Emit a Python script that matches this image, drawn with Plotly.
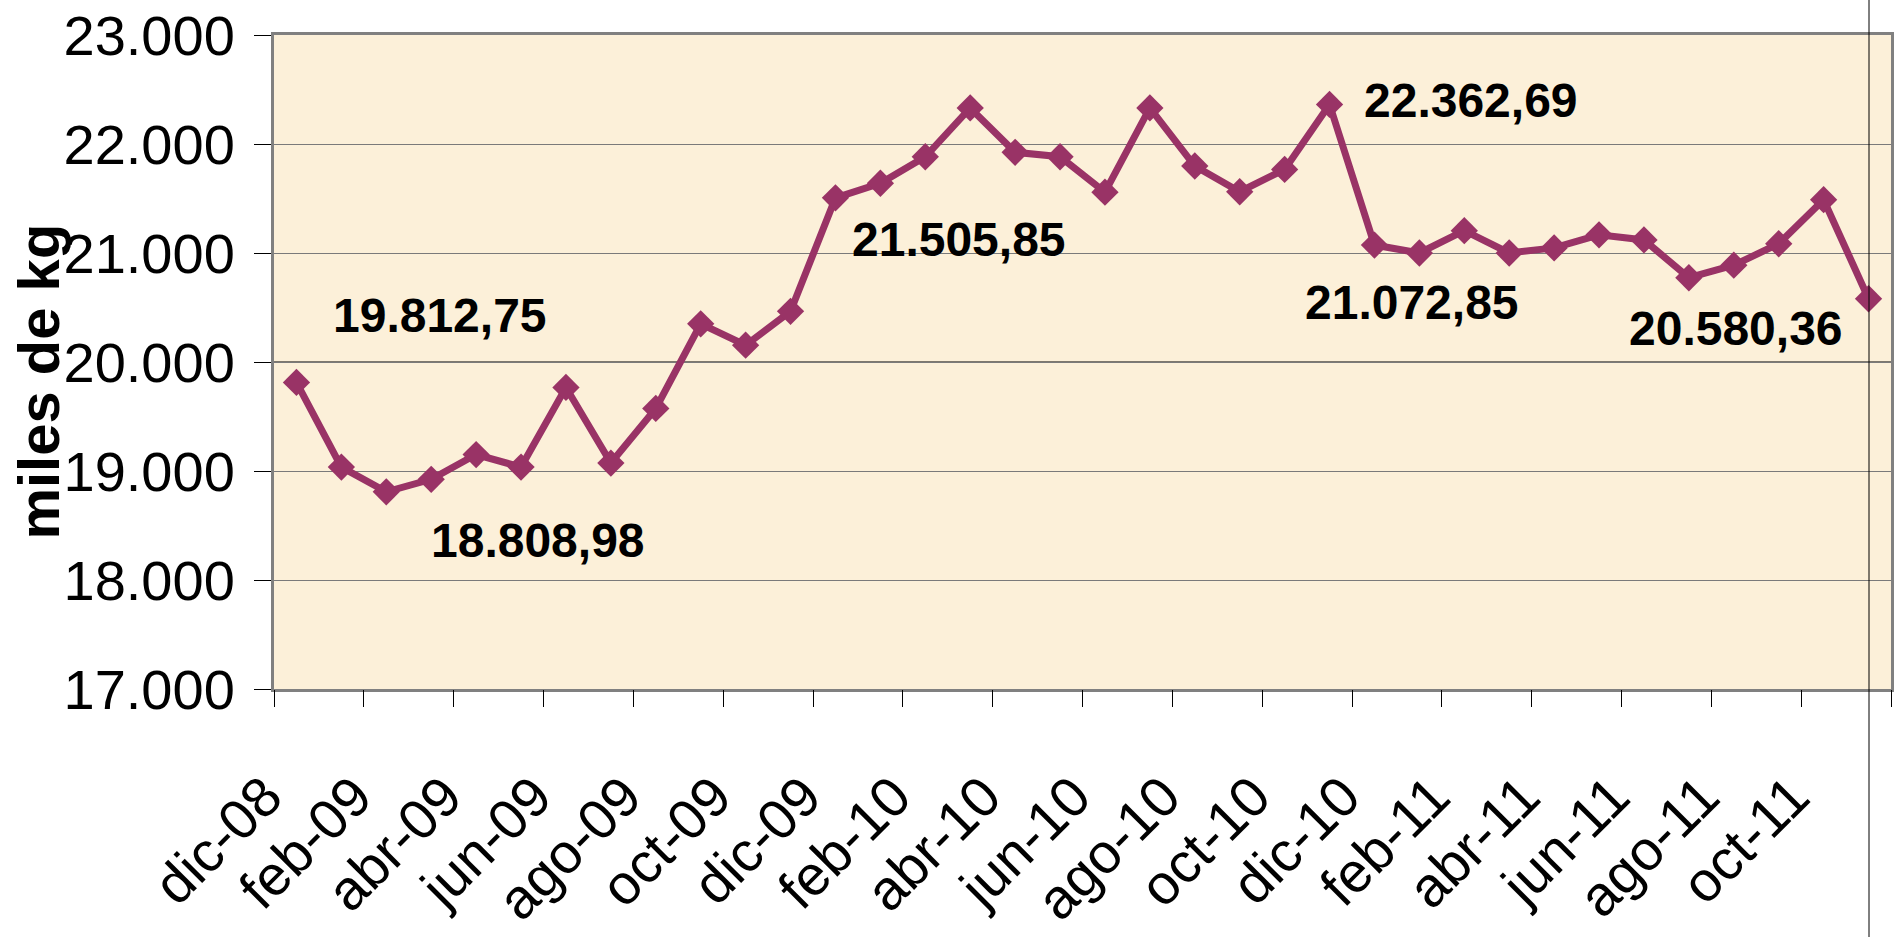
import plotly.graph_objects as go

# ---- data ----
months = ["dic-08",
          "ene-09", "feb-09", "mar-09", "abr-09", "may-09", "jun-09",
          "jul-09", "ago-09", "sep-09", "oct-09", "nov-09", "dic-09",
          "ene-10", "feb-10", "mar-10", "abr-10", "may-10", "jun-10",
          "jul-10", "ago-10", "sep-10", "oct-10", "nov-10", "dic-10",
          "ene-11", "feb-11", "mar-11", "abr-11", "may-11", "jun-11",
          "jul-11", "ago-11", "sep-11", "oct-11", "nov-11"]
values = [19812.75,
          19036, 18808.98, 18924, 19151, 19036, 19767,
          19073, 19574, 20350, 20154, 20465, 21505.85,
          21640, 21883, 22331, 21924, 21883, 21558,
          22331, 21798, 21562, 21767, 22362.69, 21072.85,
          21000, 21205, 21000, 21047, 21167, 21120,
          20773, 20888, 21085, 21489, 20580.36]
tick_labels = months[::2]
y_ticks = [17000, 18000, 19000, 20000, 21000, 22000, 23000]
labeled_idx = [0, 2, 12, 23, 24, 35]
# pixel offsets of the value labels from their points (styling)
label_offsets = [(144, -67), (152, 49), (124, 42), (141, -4), (38, 57), (-133, 30)]

FONT = "Arial, Liberation Sans, sans-serif"
LINE_COLOR = "#993366"


def es_fmt(v):
    s = format(v, ",.2f")
    return s.replace(",", "X").replace(".", ",").replace("X", ".")


fig = go.Figure()
fig.add_trace(go.Scatter(
    x=months, y=values, mode="lines+markers",
    line=dict(color=LINE_COLOR, width=7),
    marker=dict(symbol="diamond", size=21, color=LINE_COLOR),
    showlegend=False, hoverinfo="x+y",
))
# empty helper trace so that the tick-mark axis (x2) is drawn
fig.add_trace(go.Scatter(x=[], y=[], xaxis="x2", yaxis="y",
                         showlegend=False, hoverinfo="skip"))

annotations = []
for i, (dx, dy) in zip(labeled_idx, label_offsets):
    annotations.append(dict(
        x=months[i], y=values[i], xref="x", yref="y",
        text=es_fmt(values[i]), showarrow=False,
        xanchor="center", yanchor="middle",
        xshift=dx, yshift=-dy,
        font=dict(family=FONT, size=48, color="black", weight="bold"),
    ))

# axis title as rotated annotation
annotations.append(dict(
    x=-0.1462, y=0.4694, xref="paper", yref="paper",
    text="<b>miles de kg</b>", textangle=-90, showarrow=False,
    xanchor="center", yanchor="middle",
    font=dict(family=FONT, size=58, color="black"),
))

n = len(months)
fig.update_layout(
    width=1896, height=937,
    margin=dict(l=274, r=5, t=35, b=248, autoexpand=False),
    paper_bgcolor="white",
    plot_bgcolor="#FCF0D9",
    separators=",.",
    font=dict(family=FONT, color="black"),
    annotations=annotations,
    shapes=[
        dict(type="line", xref="paper", yref="y", x0=0, x1=1, y0=20000, y1=20000,
             line=dict(color="black", width=1), layer="below"),
        dict(type="line", xref="paper", yref="paper", x0=0.9864, x1=0.9864,
             y0=-0.38, y1=1.06, line=dict(color="black", width=1)),
    ],
    # second x axis only carries the tick marks between every two months
    xaxis2=dict(
        overlaying="x", anchor="y", side="bottom",
        range=[-0.5, n - 0.5], tickmode="linear", tick0=-0.5, dtick=2,
        ticks="outside", ticklen=17, tickwidth=1, tickcolor="black",
        showticklabels=False, showgrid=False, showline=False, zeroline=False,
        fixedrange=True,
    ),
)

fig.layout.xaxis.update(
    type="category", categoryorder="array", categoryarray=months,
    range=[-0.5, n - 0.5],
    tickmode="array", tickvals=tick_labels, ticktext=tick_labels,
    ticks="", tickangle=-45, tickfont=dict(family=FONT, size=56, color="black"),
    ticklabelstandoff=49, ticklabelshift=-31,
    showgrid=False, showline=True, linecolor="#808080", linewidth=3, mirror=True,
    automargin=False,
)
fig.update_yaxes(
    range=[17000, 23000], tickmode="array", tickvals=y_ticks,
    tickformat=",.0f",
    ticks="outside", ticklen=17, tickwidth=1, tickcolor="black",
    tickfont=dict(family=FONT, size=56, color="black"),
    ticklabelstandoff=8,
    showgrid=True, gridcolor="#7a7a7a", gridwidth=1, zeroline=False,
    showline=True, linecolor="#808080", linewidth=3, mirror=True,
    automargin=False,
)

fig.write_html("out.html", config={"displayModeBar": False},
               post_script="document.body.style.margin='0';document.body.style.overflow='hidden';")
